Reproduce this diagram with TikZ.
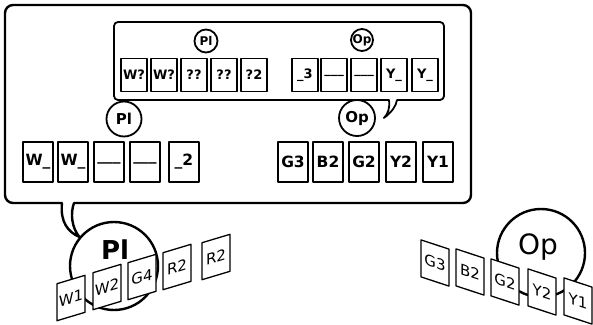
\documentclass[tikz,border=0pt]{standalone}
\usepackage{fontspec}
\setmainfont{DejaVu Sans}
\usetikzlibrary{positioning}

\begin{document}
\begin{tikzpicture}[x=1pt,y=-1pt,line join=round,
  slot/.style={draw,line width=1.8pt,minimum width=30pt,minimum height=40pt,inner sep=0pt,font=\bfseries\fontsize{15.5}{15.5}\selectfont},
  hint/.style={draw,line width=1.4pt,minimum width=26pt,minimum height=33pt,inner sep=0pt,font=\bfseries\fontsize{13}{13}\selectfont},
  card/.style={draw,fill=white,line width=1.3pt,minimum width=28pt,minimum height=37pt,inner sep=0pt,font=\fontsize{15}{15}\selectfont},
  tag/.style={draw,circle,line width=1.8pt,inner sep=0pt},
  hand/.style={draw,circle,line width=2.4pt,minimum size=88pt,inner sep=0pt}]
\useasboundingbox (0,0) rectangle (593,324);
% players' hands
\node[hand] (plhand) at (114,266) {};
\node[font=\bfseries\fontsize{26}{26}\selectfont] (plname) at (115,250) {Pl};
\node[hand] (ophand) at (541,253) {};
\node[font=\fontsize{28}{28}\selectfont] (opname) at (538,247) {Op};
\foreach \lab/\px/\py [count=\i] in {W1/71/298,W2/107/287,G4/142/277,R2/177/267,R2/216/257}
  \node[card,yslant=0.3] (plcard\i) at (\px,\py) {\lab};
\foreach \lab/\px/\py [count=\i] in {G3/435/263,B2/470/272,G2/505/282,Y2/542/292,Y1/578/301}
  \node[card,yslant=-0.33] (opcard\i) at (\px,\py) {\lab};
% big bubble (what Pl sees)
\draw[line width=2.4pt,rounded corners=8pt] (74,203) -- (471,203) -- (471,5) -- (5,5) -- (5,203) -- (62,203);
\coordinate (pltip) at (plhand.140);
\draw[line width=2.4pt,line cap=round] (62,203) .. controls (60,222) and (68,232) .. (pltip) .. controls (72,228) and (70,214) .. (74,203);
\node[tag,minimum size=35pt,font=\bfseries\fontsize{15}{15}\selectfont] (plhint) at (124,119) {Pl};
\node[tag,minimum size=36pt,font=\bfseries\fontsize{15}{15}\selectfont] (ophint) at (357,118) {Op};
\foreach \lab/\px [count=\i] in {W\_/38,W\_/73,\_\_\_/109,\_\_\_/145,\_2/184}
  \node[slot] (plslot\i) at (\px,162) {\lab};
\foreach \lab/\px [count=\i] in {G3/293,B2/328,G2/364,Y2/401,Y1/438}
  \node[slot] (opslot\i) at (\px,162) {\lab};
% small bubble (what Pl thinks Op sees)
\draw[line width=1.8pt,rounded corners=4pt] (397,100) -- (444,100) -- (444,22) -- (114,22) -- (114,100) -- (389,100);
\coordinate (optip) at ([xshift=8pt]ophint.east);
\draw[line width=1.8pt,line cap=round] (389,100) .. controls (390,108) and (388,114) .. (optip) .. controls (392,112) and (396,106) .. (397,100);
\node[tag,minimum size=23pt,font=\bfseries\fontsize{12}{12}\selectfont] (plmini) at (206,41) {Pl};
\node[tag,minimum size=22pt,font=\bfseries\fontsize{12}{12}\selectfont] (opmini) at (362,40) {Op};
\foreach \lab/\px [count=\i] in {W?/134,W?/164,??/194,??/224,?2/254}
  \node[hint] (plguess\i) at (\px,75) {\lab};
\foreach \lab/\px [count=\i] in {\_3/305,\_\_\_/334,\_\_\_/364,Y\_/394,Y\_/425}
  \node[hint] (opguess\i) at (\px,75) {\lab};
\end{tikzpicture}
\end{document}
